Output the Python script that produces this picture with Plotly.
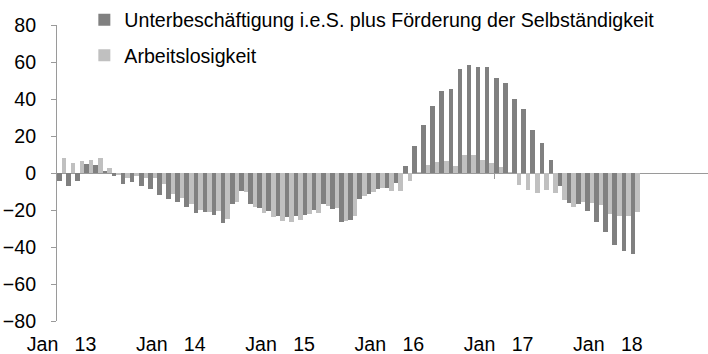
import plotly.graph_objects as go

# Monthly changes vs. previous year (thousands), Jan 2013 - Apr 2018
months = [f"{y}-{m:02d}" for y in range(2013, 2019) for m in range(1, 13)][:64]

unterbeschaeftigung = [
    -4.3, -7.0, -4.3, 4.7, 4.3, 1.1, -1.8, -5.7, -4.8, -7.2, -8.4, -11.8,
    -14.3, -15.6, -18.6, -21.6, -21.1, -22.7, -27.2, -16.8, -9.7, -16.8, -19.0, -20.4,
    -23.0, -23.6, -23.0, -22.7, -20.0, -16.8, -19.5, -26.7, -25.4, -13.8, -11.1, -8.4,
    -7.9, -5.5, 3.8, 14.5, 26.1, 36.3, 44.2, 45.4, 56.0, 58.3, 57.1, 57.1,
    51.6, 48.5, 40.0, 34.5, 23.5, 16.0, 7.1, -6.8, -16.3, -16.8, -20.6, -26.3,
    -31.9, -38.8, -41.9, -44.0,
]
arbeitslosigkeit = [
    7.9, 5.5, 6.4, 7.3, 8.0, 2.5, -0.8, -2.5, -1.6, -2.5, -2.9, -6.1,
    -11.1, -13.6, -16.8, -20.0, -20.9, -20.5, -24.9, -15.9, -10.0, -18.6, -21.8, -23.6,
    -25.8, -26.7, -25.2, -22.2, -21.5, -17.7, -19.0, -25.8, -23.0, -12.3, -10.0, -7.9,
    -9.7, -9.7, -4.3, 0.3, 4.1, 5.9, 6.4, 3.8, 9.8, 9.8, 7.3, 5.4,
    3.2, 0.4, -6.5, -9.0, -11.0, -9.2, -10.6, -14.7, -18.6, -15.5, -16.1, -17.5,
    -22.0, -23.2, -23.2, -21.0,
]

tick_pos = [0, 12, 24, 36, 48, 60]
tick_text = ["Jan\u00a0\u00a0\u00a013", "Jan\u00a0\u00a0\u00a014", "Jan\u00a0\u00a0\u00a015",
             "Jan\u00a0\u00a0\u00a016", "Jan\u00a0\u00a0\u00a017", "Jan\u00a0\u00a0\u00a018"]
year_bounds = [11.5, 23.5, 35.5, 47.5, 59.5]

x = list(range(len(months)))
x_range = [-0.5, 71.0]
axis_grey = "#9a9a9a"

fig = go.Figure()
fig.add_trace(go.Bar(
    x=x, y=unterbeschaeftigung,
    name="Unterbeschäftigung i.e.S. plus Förderung der Selbständigkeit",
    marker=dict(color="#808080", line=dict(width=0)),
    legendgroup="a",
))
fig.add_trace(go.Bar(
    x=x, y=arbeitslosigkeit,
    name="Arbeitslosigkeit",
    marker=dict(color="#c0c0c0", line=dict(width=0)),
    legendgroup="b",
))
# carrier for the horizontal zero axis
fig.add_trace(go.Scatter(x=[0], y=[0], xaxis="x2", mode="markers",
                         marker=dict(opacity=0), showlegend=False, hoverinfo="skip"))

fig.update_layout(
    width=708, height=354,
    margin=dict(l=57, r=0, t=23, b=33),
    paper_bgcolor="white", plot_bgcolor="white",
    font=dict(family="Liberation Sans, Arial, sans-serif", size=19.6, color="black"),
    barmode="group", bargap=0, bargroupgap=0,
    showlegend=True,
    legend=dict(
        x=0.042, xanchor="left", y=1.083, yanchor="top",
        bgcolor="rgba(0,0,0,0)", traceorder="grouped", tracegroupgap=7,
        font=dict(size=19.6),
    ),
    xaxis=dict(
        range=x_range, tickvals=tick_pos, ticktext=tick_text,
        ticks="", showline=False, showgrid=False, zeroline=False,
        ticklabelstandoff=9,
    ),
    xaxis2=dict(
        overlaying="x", anchor="free", position=0.5, range=x_range,
        tickvals=year_bounds, ticks="outside", ticklen=5, tickcolor=axis_grey,
        showticklabels=False, showline=True, linecolor=axis_grey, linewidth=1,
        showgrid=False, zeroline=False, layer="below traces",
    ),
    yaxis=dict(
        range=[-80, 80], tickvals=list(range(-80, 81, 20)),
        ticks="outside", ticklen=5, tickcolor=axis_grey,
        showline=True, linecolor=axis_grey, linewidth=1,
        showgrid=False, zeroline=False, ticklabelstandoff=11,
    ),
)

fig.write_html("out.html")
